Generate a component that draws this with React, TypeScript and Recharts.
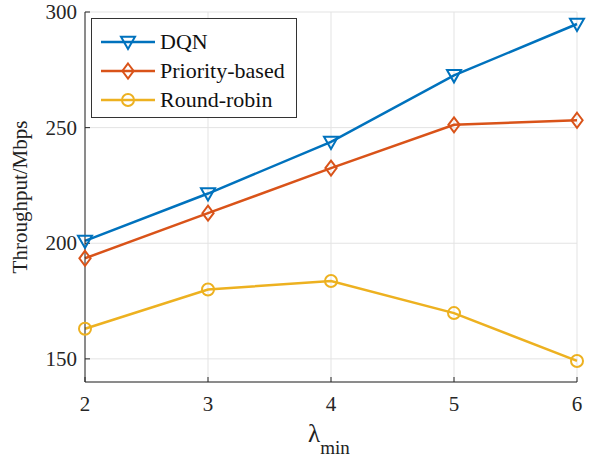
import React from "react";
import {
  LineChart,
  Line,
  XAxis,
  YAxis,
  CartesianGrid,
} from "recharts";

const lambdaMin = [2, 3, 4, 5, 6];
const dqn = [201, 221.5, 243.8, 272.6, 294.8];
const priorityBased = [193.5, 213, 232.5, 251.2, 253.2];
const roundRobin = [163, 180, 183.7, 169.8, 149.1];
const yTicks = [150, 200, 250, 300];

const BLUE = "#0072BD";
const ORANGE = "#D95319";
const YELLOW = "#EDB120";
const FONT = "Liberation Serif";
const AXIS = "#262626";

const data = lambdaMin.map((x, i) => ({
  x,
  dqn: dqn[i],
  priority: priorityBased[i],
  rr: roundRobin[i],
}));

function Marker({ kind, cx, cy, color }: { kind: string; cx: number; cy: number; color: string }) {
  if (kind === "tri") {
    const s = 7;
    return (
      <polygon
        points={`${cx - s},${cy - s * 0.75} ${cx + s},${cy - s * 0.75} ${cx},${cy + s}`}
        fill="none"
        stroke={color}
        strokeWidth={2}
      />
    );
  }
  if (kind === "dia") {
    const s = 7.5;
    return (
      <polygon
        points={`${cx},${cy - s} ${cx + s * 0.75},${cy} ${cx},${cy + s} ${cx - s * 0.75},${cy}`}
        fill="none"
        stroke={color}
        strokeWidth={2}
      />
    );
  }
  return <circle cx={cx} cy={cy} r={6} fill="none" stroke={color} strokeWidth={2} />;
}

const mkDot = (kind: string, color: string) => (props: any) => {
  const { cx, cy, index } = props;
  if (cx == null || cy == null) return <g key={index} />;
  return <Marker key={index} kind={kind} cx={cx} cy={cy} color={color} />;
};

const legendItems = [
  { label: "DQN", color: BLUE, kind: "tri" },
  { label: "Priority-based", color: ORANGE, kind: "dia" },
  { label: "Round-robin", color: YELLOW, kind: "circ" },
];

function LegendBox() {
  return (
    <svg width={206} height={100} style={{ display: "block" }}>
      <rect x={0.5} y={0.5} width={205} height={99} fill="#fff" stroke="#333" strokeWidth={1} />
      {legendItems.map((it, i) => {
        const y = 24 + i * 29;
        return (
          <g key={it.label}>
            <line x1={10} x2={64} y1={y} y2={y} stroke={it.color} strokeWidth={2.5} />
            <Marker kind={it.kind} cx={37} cy={y} color={it.color} />
            <text x={69} y={y + 7} fontFamily={FONT} fontSize={22} fill="#111">
              {it.label}
            </text>
          </g>
        );
      })}
    </svg>
  );
}

const XTick = (p: any) => (
  <text x={p.x} y={p.y} dy="0.71em" textAnchor="middle" fontFamily={FONT} fontSize={21} fill={AXIS}>
    {p.payload.value}
  </text>
);

const YTick = (p: any) => (
  <text x={p.x} y={p.y} dy="0.34em" textAnchor="end" fontFamily={FONT} fontSize={21} fill={AXIS}>
    {p.payload.value}
  </text>
);

const XLabel = (props: any) => {
  const { viewBox } = props;
  const cx = viewBox.x + viewBox.width / 2;
  return (
    <text x={cx - 23} y={442} fontFamily={FONT} fill="#222">
      <tspan fontSize={25}>λ</tspan>
      <tspan fontSize={19} dy={12}>min</tspan>
    </text>
  );
};

const YLabel = () => (
  <text
    x={27}
    y={197}
    transform="rotate(-90 27 197)"
    textAnchor="middle"
    fontFamily={FONT}
    fontSize={21}
    fill="#222"
  >
    Throughput/Mbps
  </text>
);

export default function App() {
  return (
    <div
      style={{
        position: "absolute",
        left: 0,
        top: 0,
        width: 594,
        height: 458,
        background: "#fff",
        fontFamily: FONT,
      }}
    >
      <LineChart
        width={594}
        height={458}
        data={data}
        margin={{ top: 12, right: 17, left: 25, bottom: 30 }}
      >
        <CartesianGrid stroke="#e3e3e3" strokeWidth={1} />
        <XAxis
          dataKey="x"
          type="number"
          domain={[2, 6]}
          ticks={lambdaMin}
          height={46}
          axisLine={{ stroke: AXIS, strokeWidth: 1 }}
          tickLine={{ stroke: AXIS }}
          tickSize={-5}
          tickMargin={19}
          tick={<XTick />}
          label={<XLabel />}
        />
        <XAxis
          xAxisId="top"
          orientation="top"
          dataKey="x"
          type="number"
          domain={[2, 6]}
          ticks={lambdaMin}
          height={0}
          axisLine={{ stroke: AXIS, strokeWidth: 1 }}
          tickLine={{ stroke: AXIS }}
          tickSize={-5}
          tick={false}
        />
        <YAxis
          type="number"
          domain={[140, 300]}
          ticks={yTicks}
          width={60}
          axisLine={{ stroke: AXIS, strokeWidth: 1 }}
          tickLine={{ stroke: AXIS }}
          tickSize={-5}
          tickMargin={13}
          tick={<YTick />}
          label={<YLabel />}
        />
        <YAxis
          yAxisId="right"
          orientation="right"
          type="number"
          domain={[140, 300]}
          ticks={yTicks}
          width={0}
          axisLine={{ stroke: AXIS, strokeWidth: 1 }}
          tickLine={{ stroke: AXIS }}
          tickSize={-5}
          tick={false}
        />
        <Line
          dataKey="dqn"
          stroke={BLUE}
          strokeWidth={2.5}
          dot={mkDot("tri", BLUE)}
          isAnimationActive={false}
        />
        <Line
          dataKey="priority"
          stroke={ORANGE}
          strokeWidth={2.5}
          dot={mkDot("dia", ORANGE)}
          isAnimationActive={false}
        />
        <Line
          dataKey="rr"
          stroke={YELLOW}
          strokeWidth={2.5}
          dot={mkDot("circ", YELLOW)}
          isAnimationActive={false}
        />
      </LineChart>
      <div style={{ position: "absolute", left: 91, top: 18 }}>
        <LegendBox />
      </div>
    </div>
  );
}
